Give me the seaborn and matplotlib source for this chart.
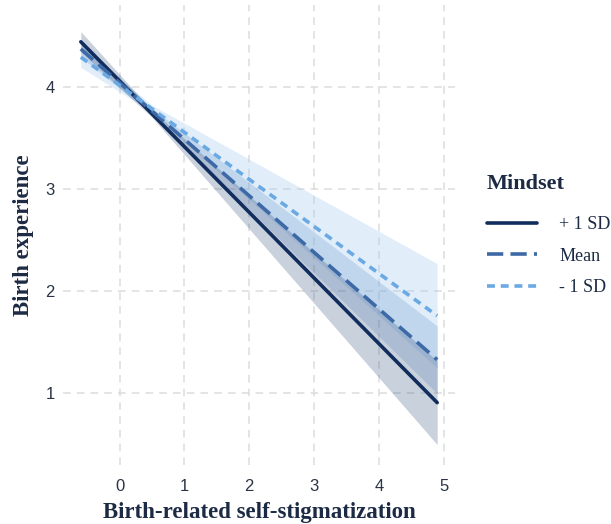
import numpy as np
import pandas as pd
import matplotlib
matplotlib.use("Agg")
import matplotlib.pyplot as plt
import seaborn as sns

# ---- data ----
groups = ["+ 1 SD", "Mean", "- 1 SD"]
line_x = [-0.6, 4.9]
line_plus = [4.44, 0.91]
line_mean = [4.37, 1.33]
line_minus = [4.29, 1.76]

band_x = [-0.6, 0.5, 4.9]
band_plus_lo = [4.34, 3.70, 0.50]
band_plus_hi = [4.54, 3.77, 1.32]
band_mean_lo = [4.29, 3.73, 1.00]
band_mean_hi = [4.45, 3.79, 1.66]
band_minus_lo = [4.19, 3.75, 1.25]
band_minus_hi = [4.39, 3.82, 2.27]

x_ticks = [0, 1, 2, 3, 4, 5]
y_ticks = [1, 2, 3, 4]

colors = {"+ 1 SD": "#112d5e", "Mean": "#3d6aa6", "- 1 SD": "#6aa9e4"}
fills = {"+ 1 SD": ("#2a4a7a", 0.25), "Mean": ("#4f81bd", 0.22), "- 1 SD": ("#a3cdf0", 0.32)}
dashes = {"+ 1 SD": "", "Mean": (4.5, 2.0), "- 1 SD": (2.2, 1.6)}

df = pd.DataFrame({
    "x": line_x * 3,
    "y": line_plus + line_mean + line_minus,
    "Mindset": [g for g in groups for _ in line_x],
})

sns.set_style("white")
plt.rcParams["font.family"] = ["Liberation Sans", "DejaVu Sans"]

fig = plt.figure(figsize=(6.11, 5.24), dpi=100)
ax = fig.add_axes([63 / 611, 1 - 465 / 524, (455 - 63) / 611, (465 - 5) / 524])

bands = {
    "+ 1 SD": (band_plus_lo, band_plus_hi),
    "Mean": (band_mean_lo, band_mean_hi),
    "- 1 SD": (band_minus_lo, band_minus_hi),
}
for g in ["- 1 SD", "Mean", "+ 1 SD"]:
    lo, hi = bands[g]
    c, a = fills[g]
    ax.fill_between(band_x, lo, hi, color=c, alpha=a, linewidth=0, zorder=1)

sns.lineplot(data=df, x="x", y="y", hue="Mindset", style="Mindset",
             hue_order=groups, style_order=groups, palette=colors,
             dashes=dashes, linewidth=2.6, ax=ax, zorder=3, legend=True)

ax.set_xlim(-0.875, 5.175)
ax.set_ylim(0.30, 4.80)
ax.set_xticks(x_ticks)
ax.set_yticks(y_ticks)
ax.grid(True, color="#dcdcdc", linestyle=(0, (5, 4)), linewidth=1.1, zorder=0)
ax.set_axisbelow(True)
for s in ax.spines.values():
    s.set_visible(False)
ax.tick_params(axis="x", length=0, labelsize=12, colors="#2a3446", pad=10)
ax.tick_params(axis="y", length=0, labelsize=12, colors="#2a3446", pad=6)

serif = ["Liberation Serif", "DejaVu Serif"]
ax.set_xlabel("Birth-related self-stigmatization", family=serif, fontweight="bold",
              fontsize=16.5, color="#1c2a44", labelpad=6)
ax.set_ylabel("Birth experience", family=serif, fontweight="bold",
              fontsize=16.5, color="#1c2a44", labelpad=8)

leg = ax.legend(title="Mindset", loc="center left", bbox_to_anchor=(1.04, 0.5),
                frameon=False, handlelength=2.8, handletextpad=1.2, labelspacing=0.8,
                prop={"family": serif, "size": 13})
leg.get_title().set_fontfamily(serif)
leg.get_title().set_fontweight("bold")
leg.get_title().set_fontsize(16)
leg.get_title().set_color("#1c2a44")
leg._legend_box.align = "left"
leg._legend_box.sep = 16
for t in leg.get_texts():
    t.set_color("#1c2a44")

fig.savefig("out.png", dpi=100)
